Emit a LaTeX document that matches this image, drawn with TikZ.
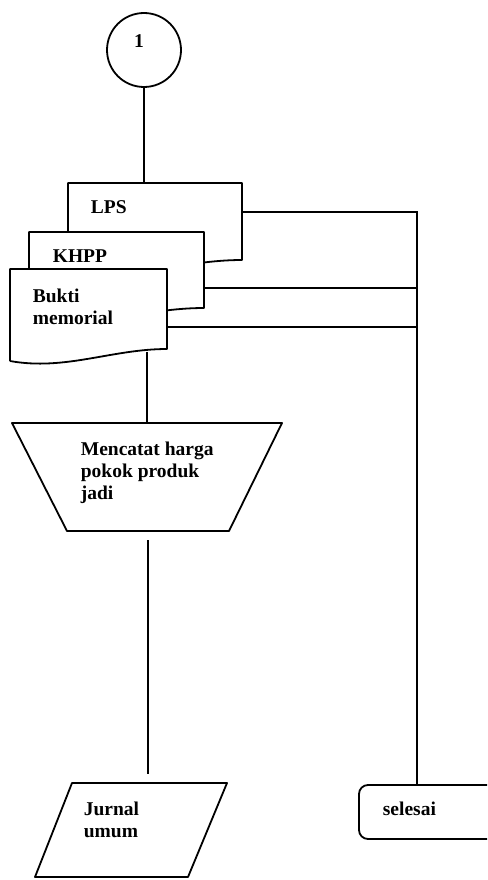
\documentclass[tikz,border=0pt]{standalone}
\usepackage{fontspec}
\setmainfont{Liberation Serif}
\begin{document}
\begin{tikzpicture}[x=1pt, y=-1pt, line width=1.8pt,
  lbl/.style={font=\bfseries\fontsize{19.5}{22}\selectfont, anchor=base west, inner sep=0pt, align=left},
  doc/.style={draw, fill=white, line join=round}]
\useasboundingbox (0,0) rectangle (487,880);
\clip (0,0) rectangle (487,880);
% page connector
\node[circle, draw, minimum size=74pt, inner sep=0pt] (one) at (144,50) {};
\node[lbl, anchor=center] (onetxt) at (139,41) {1};
% documents
\draw[doc] (68,272) -- (68,183) -- (242,183) -- (242,260)
  .. controls (181,260) and (129,282) .. (68,272);
\draw[doc] (29,320) -- (29,232) -- (204,232) -- (204,308)
  .. controls (143,308) and (90,330) .. (29,320);
\draw[doc] (10,361) -- (10,269) -- (167,269) -- (167,349)
  .. controls (112,349) and (65,371) .. (10,361);
\node[lbl] (lps) at (90,213) {LPS};
\node[lbl] (khpp) at (52,262) {KHPP};
\node[lbl] (bukti) at (32,324) {Bukti\\memorial};
% manual process
\draw[line join=round] (12,423) -- (282,423) -- (229,531) -- (67,531) -- cycle;
\node[lbl] (catat) at (80,499) {Mencatat harga\\pokok produk\\jadi};
% journal
\draw[line join=round] (72,783) -- (227,783) -- (188,877) -- (35,877) -- cycle;
\node[lbl] (jurnal) at (83,837) {Jurnal\\umum};
% terminator
\draw[rounded corners=9pt] (359,785) rectangle (520,839);
\node[lbl] (selesai) at (382,815) {selesai};
% connectors
\coordinate (lpsT) at (146,183);
\coordinate (lpsR) at (242,212);
\coordinate (khppR) at (204,288);
\coordinate (buktiR) at (167,327);
\coordinate (buktiB) at (147,352);
\coordinate (catatT) at (147,423);
\coordinate (catatB) at (148,540);
\coordinate (jurnalT) at (148,774);
\coordinate (selesaiT) at (417,785);
\draw (one.south) -- (one.south |- lpsT);
\draw (lpsR) -| (selesaiT);
\draw (khppR) -- (khppR -| selesaiT);
\draw (buktiR) -- (buktiR -| selesaiT);
\draw (buktiB) -- (catatT);
\draw (catatB) -- (jurnalT);
\end{tikzpicture}
\end{document}
